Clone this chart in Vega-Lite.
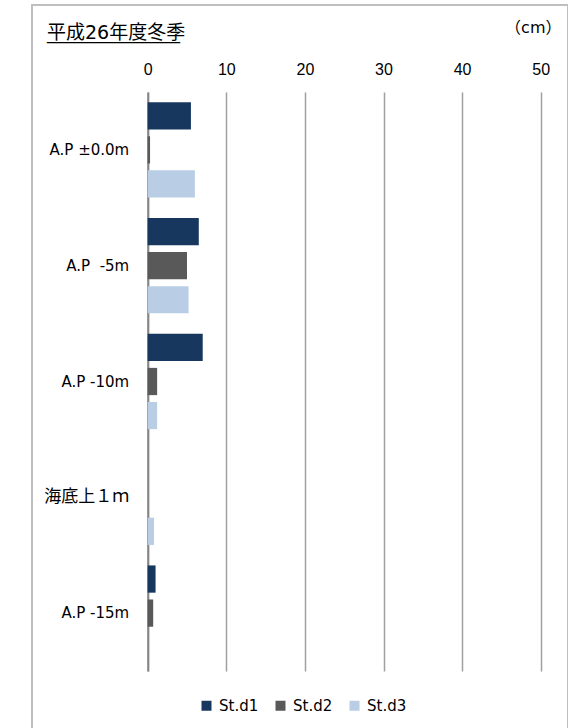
{
  "$schema": "https://vega.github.io/schema/vega-lite/v6.json",
  "width": 536,
  "height": 740,
  "autosize": {"type": "none"},
  "padding": {"left": 32, "top": 5, "right": 0, "bottom": 0},
  "background": "white",
  "view": {"stroke": "#BFBFBF", "strokeWidth": 2},
  "title": {
    "text": "平成26年度冬季",
    "subtitle": "______________",
    "anchor": "start",
    "frame": "group",
    "orient": "top",
    "offset": 0,
    "dx": 15,
    "dy": 53,
    "baseline": "alphabetic",
    "font": "DejaVu Sans, Noto Sans CJK JP",
    "fontSize": 19,
    "fontWeight": "normal",
    "color": "#000000",
    "subtitleFont": "DejaVu Sans",
    "subtitleFontSize": 19,
    "subtitleColor": "#000000",
    "subtitlePadding": -19
  },
  "data": {
    "values": [
      {"depth": "A.P ±0.0m", "station": "St.d1", "cm": 5.5},
      {"depth": "A.P ±0.0m", "station": "St.d2", "cm": 0.3},
      {"depth": "A.P ±0.0m", "station": "St.d3", "cm": 6.0},
      {"depth": "A.P  -5m", "station": "St.d1", "cm": 6.5},
      {"depth": "A.P  -5m", "station": "St.d2", "cm": 5.0},
      {"depth": "A.P  -5m", "station": "St.d3", "cm": 5.2},
      {"depth": "A.P -10m", "station": "St.d1", "cm": 7.0},
      {"depth": "A.P -10m", "station": "St.d2", "cm": 1.2},
      {"depth": "A.P -10m", "station": "St.d3", "cm": 1.2},
      {"depth": "海底上１ｍ", "station": "St.d1", "cm": 0},
      {"depth": "海底上１ｍ", "station": "St.d2", "cm": 0},
      {"depth": "海底上１ｍ", "station": "St.d3", "cm": 0.8},
      {"depth": "A.P -15m", "station": "St.d1", "cm": 1.0},
      {"depth": "A.P -15m", "station": "St.d2", "cm": 0.7},
      {"depth": "A.P -15m", "station": "St.d3", "cm": 0}
    ]
  },
  "mark": {"type": "bar"},
  "encoding": {
    "y": {
      "field": "depth",
      "type": "nominal",
      "sort": ["A.P ±0.0m", "A.P  -5m", "A.P -10m", "海底上１ｍ", "A.P -15m"],
      "scale": {"range": [87, 666], "paddingInner": 0.165, "paddingOuter": 0.0825},
      "axis": {
        "title": null,
        "offset": -115.7,
        "ticks": false,
        "domainColor": "#868686",
        "domainWidth": 2,
        "labelPadding": 19,
        "labelFont": "DejaVu Sans, Noto Sans CJK JP",
        "labelFontSize": {"condition": {"test": "datum.value === '海底上１ｍ'", "value": 17}, "value": 15},
        "labelExpr": "replace(datum.value, '  ', '\u00a0\u00a0')",
        "labelColor": "#000000"
      }
    },
    "yOffset": {
      "field": "station",
      "type": "nominal",
      "scale": {"paddingInner": 0.2, "paddingOuter": 0.02}
    },
    "x": {
      "field": "cm",
      "type": "quantitative",
      "scale": {"domain": [0, 50], "range": [115.7, 508.7]},
      "axis": {
        "orient": "top",
        "offset": -87,
        "values": [0, 10, 20, 30, 40, 50],
        "domain": false,
        "ticks": false,
        "grid": true,
        "gridColor": "#A0A0A0",
        "gridWidth": 1.5,
        "labelFlush": false,
        "labelPadding": 15,
        "labelFont": "Liberation Sans",
        "labelFontSize": 16,
        "labelColor": "#000000",
        "title": "（cm）",
        "titleX": 529,
        "titleY": -60,
        "titleAlign": "right",
        "titleAnchor": null,
        "titleBaseline": "alphabetic",
        "titleFont": "DejaVu Sans, Noto Sans CJK JP",
        "titleFontSize": 16,
        "titleFontWeight": "normal",
        "titleColor": "#000000"
      }
    },
    "color": {
      "field": "station",
      "type": "nominal",
      "scale": {"domain": ["St.d1", "St.d2", "St.d3"], "range": ["#17375E", "#595959", "#B9CDE5"]},
      "legend": {
        "title": null,
        "orient": "none",
        "legendX": 167,
        "legendY": 693,
        "direction": "horizontal",
        "symbolType": "square",
        "symbolSize": 100,
        "symbolStrokeWidth": 0,
        "labelFont": "DejaVu Sans",
        "labelFontSize": 15,
        "labelColor": "#000000",
        "labelOffset": 5,
        "columnPadding": 14
      }
    }
  }
}
